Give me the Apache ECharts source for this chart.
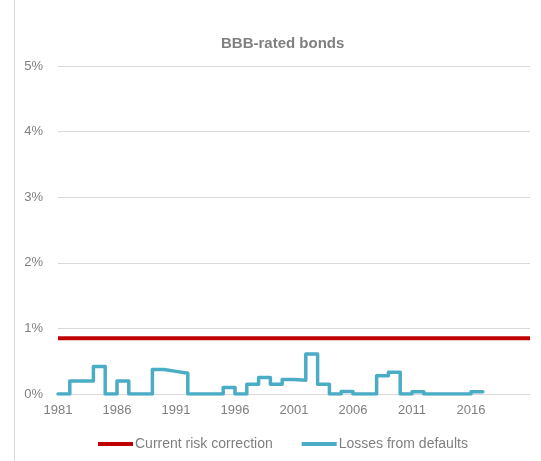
<!DOCTYPE html>
<html>
<head>
<meta charset="utf-8">
<script src="https://cdn.jsdelivr.net/npm/echarts@6/dist/echarts.min.js"></script>
<style>
html,body{margin:0;padding:0;background:#fff;}
#chart{width:541px;height:461px;}
</style>
</head>
<body>
<div id="chart"></div>
<script>
// Data
const years = [1981,1982,1983,1984,1985,1986,1987,1988,1989,1990,1991,1992,1993,1994,1995,1996,1997,1998,1999,2000,2001,2002,2003,2004,2005,2006,2007,2008,2009,2010,2011,2012,2013,2014,2015,2016,2017];
const losses = [0,0.2,0.2,0.42,0,0.2,0,0,0.375,0.345,0.315,0,0,0,0.1,0,0.15,0.25,0.15,0.22,0.21,0.61,0.15,0,0.04,0,0,0.28,0.33,0,0.035,0,0,0,0,0.035,0.035];
const riskYears = [1981, 2021];
const riskCorrection = [0.85, 0.85];
const yTicks = [0,1,2,3,4,5];
const seriesNames = ['Current risk correction', 'Losses from defaults'];

// step points: value held over each year
const stepData = [];
years.forEach((y,i)=>{
  if (i > 0) stepData.push([y, losses[i-1]]);
  stepData.push([y, losses[i]]);
});

const chart = echarts.init(document.getElementById('chart'), null, {renderer:'canvas'});
const font = 'Liberation Sans, Arial, sans-serif';
chart.setOption({
  animation:false,
  backgroundColor:'#ffffff',
  title:{
    text:'BBB-rated bonds',
    left:216, top:31, 
    textStyle:{fontFamily:font, fontSize:15, fontWeight:'bold', color:'#7f7f7f'}
  },
  graphic:[{type:'line', shape:{x1:14.5,y1:0,x2:14.5,y2:461}, style:{stroke:'#d9d9d9', lineWidth:1}}],
  grid:{left:58, right:11, top:66, bottom:67, containLabel:false},
  xAxis:{
    type:'value', min:1981, max:2021, interval:5,
    axisLine:{show:true, lineStyle:{color:'#d9d9d9', width:1}},
    axisTick:{show:false},
    splitLine:{show:false},
    axisLabel:{fontFamily:font, fontSize:13, color:'#7f7f7f', margin:10,
      formatter:v => v >= 2021 ? '' : String(v)}
  },
  yAxis:{
    type:'value', min:0, max:5, interval:1,
    axisLine:{show:false}, axisTick:{show:false},
    splitLine:{lineStyle:{color:'#d9d9d9', width:1}},
    axisLabel:{fontFamily:font, fontSize:13, color:'#7f7f7f', margin:15,
      formatter:v => (yTicks.includes(v) ? v + '%' : '')}
  },
  legend:{
    bottom:5, left:93,
    itemWidth:35, itemHeight:4, itemGap:29,
    icon:'rect',
    textStyle:{fontFamily:font, fontSize:14, color:'#7f7f7f', padding:[0,0,0,-3]},
    data:seriesNames
  },
  series:[
    {name:seriesNames[0], type:'line', data:riskYears.map((y,i)=>[y,riskCorrection[i]]),
      symbol:'none', lineStyle:{color:'#c00000', width:4}, itemStyle:{color:'#c00000'}, z:2},
    {name:seriesNames[1], type:'line', data:stepData,
      symbol:'none', lineStyle:{color:'#4bacc6', width:3.5, join:'round', cap:'round'}, itemStyle:{color:'#4bacc6'}, z:3}
  ]
});
</script>
</body>
</html>
